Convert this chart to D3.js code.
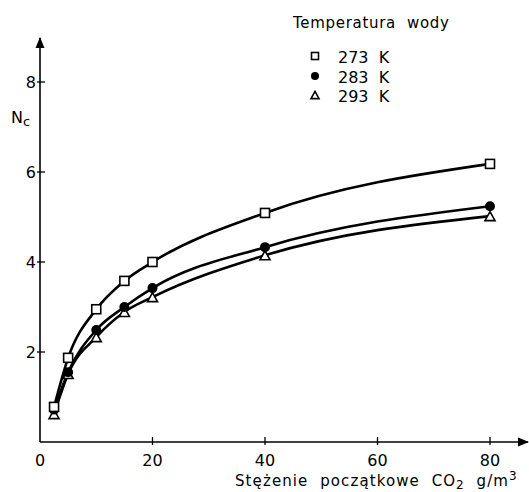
<!DOCTYPE html>
<html>
<head>
<meta charset="utf-8">
<script src="https://cdn.jsdelivr.net/npm/d3@7"></script>
<style>
  body { margin: 0; background: #fff; }
  text { font-family: "DejaVu Sans", sans-serif; fill: #000; white-space: pre; }
</style>
</head>
<body>
<script>
const width = 529, height = 492;

// stężenie CO2 g/m3
const conc = [2.5, 5, 10, 15, 20, 40, 80];
// Nc for each water temperature
const n273 = [0.78, 1.87, 2.95, 3.58, 4.0, 5.09, 6.18];
const n283 = [0.72, 1.55, 2.49, 3.0, 3.42, 4.33, 5.24];
const n293 = [0.62, 1.51, 2.33, 2.89, 3.22, 4.15, 5.02];
const seriesNames = ["273  K", "283  K", "293  K"];
const xTicks = [0, 20, 40, 60, 80];
const yTicks = [2, 4, 6, 8];

const x = d3.scaleLinear().domain([0, 80]).range([40, 490]);
const y = d3.scaleLinear().domain([0, 8]).range([442, 82]);

const svg = d3.select("body").append("svg")
    .attr("width", width)
    .attr("height", height);

// axes with arrows
svg.append("defs").append("marker")
    .attr("id", "arr")
    .attr("viewBox", "0 0 10 10")
    .attr("refX", 9).attr("refY", 5)
    .attr("markerWidth", 7).attr("markerHeight", 7)
    .attr("orient", "auto")
  .append("path")
    .attr("d", "M0,1L10,5L0,9z");

svg.append("line")
    .attr("x1", x(0)).attr("y1", y(0))
    .attr("x2", x(0)).attr("y2", 38)
    .attr("stroke", "#000").attr("stroke-width", 1.6)
    .attr("marker-end", "url(#arr)");

svg.append("line")
    .attr("x1", x(0)).attr("y1", y(0))
    .attr("x2", 528).attr("y2", y(0))
    .attr("stroke", "#000").attr("stroke-width", 1.6)
    .attr("marker-end", "url(#arr)");

// y ticks (cross the axis a little)
const gy = svg.append("g");
gy.selectAll("line").data(yTicks).enter().append("line")
    .attr("x1", x(0) - 3).attr("x2", x(0) + 5)
    .attr("y1", d => y(d)).attr("y2", d => y(d))
    .attr("stroke", "#000").attr("stroke-width", 1.3);
gy.selectAll("text").data(yTicks).enter().append("text")
    .attr("x", x(0) - 4).attr("y", d => y(d) + 6)
    .attr("text-anchor", "end")
    .style("font-size", "16px")
    .text(d => d);

// x ticks
const gx = svg.append("g");
gx.selectAll("line").data(xTicks.slice(1)).enter().append("line")
    .attr("x1", d => x(d)).attr("x2", d => x(d))
    .attr("y1", y(0) - 5).attr("y2", y(0) + 3)
    .attr("stroke", "#000").attr("stroke-width", 1.3);
gx.selectAll("text").data(xTicks).enter().append("text")
    .attr("x", d => x(d)).attr("y", 466)
    .attr("text-anchor", "middle")
    .style("font-size", "16px")
    .text(d => d);

// axis titles
const nc = svg.append("text").attr("x", 11).attr("y", 123).style("font-size", "16px");
nc.append("tspan").text("N");
nc.append("tspan").attr("dy", 3).style("font-size", "13px").text("c");

const xt = svg.append("text").attr("x", 235).attr("y", 486)
    .style("font-size", "15px").style("letter-spacing", "1.1px");
xt.append("tspan").text("Stężenie  początkowe  CO");
xt.append("tspan").attr("dy", 3).style("font-size", "12px").text("2");
xt.append("tspan").attr("dy", -3).text("  g/m");
xt.append("tspan").attr("dy", -6).style("font-size", "12px").text("3");

// curves
const line = d3.line()
    .x((d, i) => x(conc[i]))
    .y(d => y(d))
    .curve(d3.curveMonotoneX);

[n273, n283, n293].forEach(s => {
  svg.append("path")
      .attr("d", line(s))
      .attr("fill", "none")
      .attr("stroke", "#000")
      .attr("stroke-width", 2.6);
});

// markers
function square(g, cx, cy, s) {
  g.append("rect")
      .attr("x", cx - s / 2).attr("y", cy - s / 2)
      .attr("width", s).attr("height", s)
      .attr("fill", "#fff").attr("stroke", "#000").attr("stroke-width", 1.6);
}
function dot(g, cx, cy, r) {
  g.append("circle").attr("cx", cx).attr("cy", cy).attr("r", r).attr("fill", "#000");
}
function tri(g, cx, cy, s) {
  const h = s * 0.9;
  g.append("path")
      .attr("d", `M${cx},${cy - h / 2}L${cx + s / 2},${cy + h / 2}L${cx - s / 2},${cy + h / 2}Z`)
      .attr("fill", "#fff").attr("stroke", "#000").attr("stroke-width", 1.6);
}

const gm = svg.append("g");
n293.forEach((v, i) => tri(gm, x(conc[i]), y(v), 10));
n283.forEach((v, i) => dot(gm, x(conc[i]), y(v), 5));
n273.forEach((v, i) => square(gm, x(conc[i]), y(v), 9));

// legend
svg.append("text").attr("x", 293).attr("y", 28)
    .style("font-size", "15px").style("letter-spacing", "0.7px")
    .text("Temperatura  wody");

const lg = svg.append("g");
const ly = [57, 77, 96];
square(lg, 315, ly[0] - 1, 7);
dot(lg, 315, ly[1] - 1, 4);
tri(lg, 315, ly[2] - 1, 8);
lg.selectAll("text").data(seriesNames).enter().append("text")
    .attr("x", 338).attr("y", (d, i) => ly[i] + 6)
    .style("font-size", "16px")
    .text(d => d);
</script>
</body>
</html>
